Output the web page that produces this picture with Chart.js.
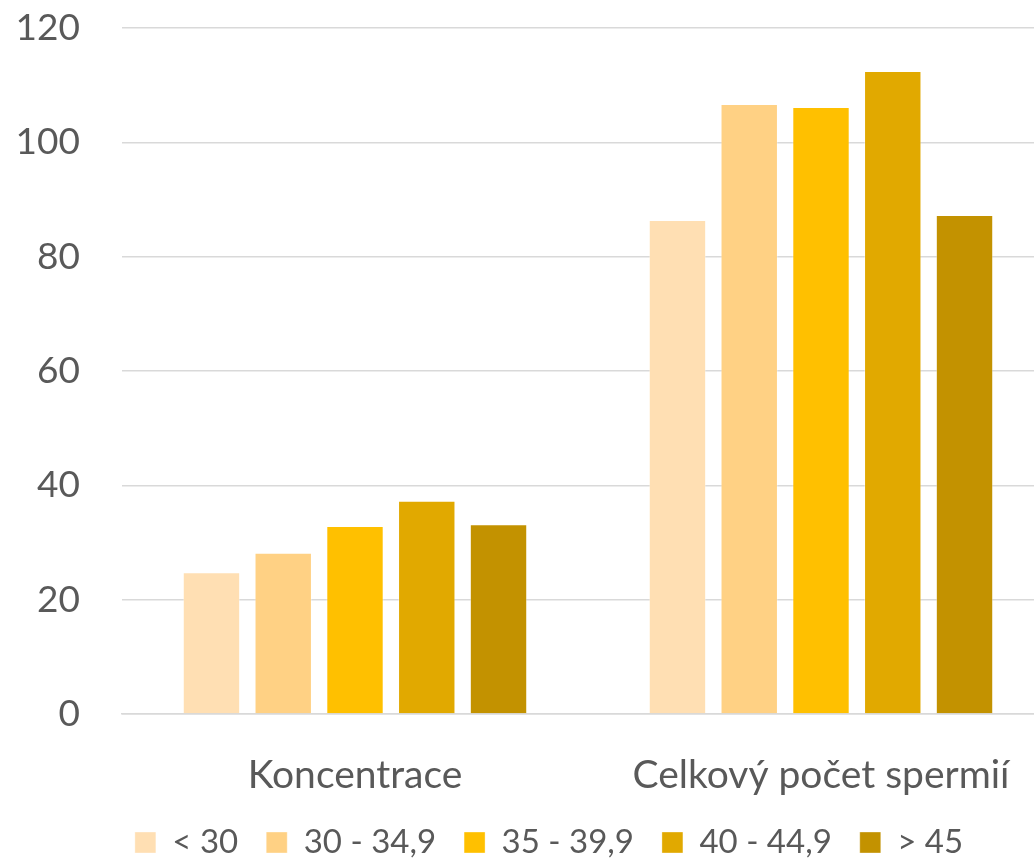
<!DOCTYPE html>
<html>
<head>
<meta charset="utf-8">
<script src="https://cdn.jsdelivr.net/npm/chart.js@4.4.1/dist/chart.umd.min.js"></script>
<style>
  html, body { margin: 0; padding: 0; background: #fff; overflow: hidden; }
  #wrap { width: 1054px; height: 858px; }
</style>
</head>
<body>
<div id="wrap"><canvas id="graf"></canvas></div>
<script>
// kategorie a skupiny
const kategorie = ["Koncentrace", "Celkový počet spermií"];
const skupiny = ["< 30", "30 - 34,9", "35 - 39,9", "40 - 44,9", "> 45"];
const barvy = ["#FFDFB3", "#FFD184", "#FFC000", "#E1A900", "#C39200"];

// hodnoty podle skupin (Koncentrace, Celkový počet)
const hodnotyPod30 = [24.8, 86.4];
const hodnoty30 = [28.2, 106.7];
const hodnoty35 = [32.9, 106.2];
const hodnoty40 = [37.3, 112.5];
const hodnotyNad45 = [33.2, 87.3];

const osaY = { min: 0, max: 120, krok: 20 };

const serie = [hodnotyPod30, hodnoty30, hodnoty35, hodnoty40, hodnotyNad45];
const pismo = "Lato, 'DejaVu Sans', sans-serif";
const seda = "#595959";

// legenda: pevna vyska a posun doprava (padding je kvuli mezeram mezi polozkami)
const upravaLegendy = {
  id: "upravaLegendy",
  beforeUpdate(chart) {
    const leg = chart.legend;
    if (!leg || leg._upraveno) return;
    const fit = leg.fit;
    leg.fit = function () {
      fit.call(this);
      this.height = 60;
    };
    leg._upraveno = true;
  },
  afterLayout(chart) {
    chart.legend.left += 22;
    chart.legend.right += 22;
  }
};

const ctx = document.getElementById("graf").getContext("2d");
new Chart(ctx, {
  type: "bar",
  data: {
    labels: kategorie,
    datasets: serie.map((data, i) => ({
      label: skupiny[i],
      data: data,
      backgroundColor: barvy[i],
      borderColor: "rgba(255,255,255,0.35)",
      borderWidth: 1,
      categoryPercentage: 0.77,
      barPercentage: 0.8
    }))
  },
  plugins: [upravaLegendy],
  options: {
    responsive: true,
    maintainAspectRatio: false,
    animation: false,
    layout: { padding: 0 },
    plugins: {
      tooltip: { enabled: false },
      legend: {
        position: "bottom",
        labels: {
          color: seda,
          font: { family: pismo, size: 33 },
          boxWidth: 21,
          boxHeight: 21,
          padding: 28
        }
      }
    },
    scales: {
      x: {
        grid: { display: false },
        border: { color: "#d9d9d9", width: 1.5 },
        ticks: { color: seda, font: { family: pismo, size: 39 }, padding: 30 },
        afterFit(scale) { scale.height = 84; }
      },
      y: {
        min: osaY.min,
        max: osaY.max,
        grid: { color: "#d9d9d9", lineWidth: 1.5, drawTicks: false },
        border: { display: false },
        ticks: { stepSize: osaY.krok, color: seda, font: { family: pismo, size: 37 }, padding: 42 },
        afterFit(scale) {
          scale.width = 122;
          scale.paddingTop = 28;
        }
      }
    }
  }
});
</script>
</body>
</html>
